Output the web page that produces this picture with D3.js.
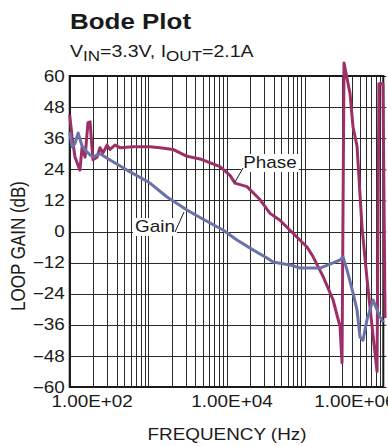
<!DOCTYPE html>
<html>
<head>
<meta charset="utf-8">
<script src="https://cdn.jsdelivr.net/npm/d3@7/dist/d3.min.js"></script>
<style>
  body { margin: 0; background: #fff; }
  svg { display: block; font-family: "Liberation Sans", Arial, sans-serif; }
</style>
</head>
<body>
<svg id="chart" width="388" height="446"></svg>
<script>
// data
const gainFreq = [100, 107, 117, 128, 144, 157, 182, 198, 243, 327, 538, 1057, 1742, 3134, 4592, 9020, 13610, 21770, 32870, 39200, 64560, 86500, 156000, 228500, 280600, 306300, 344400, 411000, 462100, 504700, 551000, 619700, 738900, 907600, 1000000];
const gainDb = [38.4, 32.7, 34, 38, 33, 31.5, 29.5, 28.8, 30, 27.6, 23.7, 18.7, 13.3, 8.3, 5.4, 0.6, -3.3, -7.1, -10.2, -11.8, -12.9, -14.1, -14.1, -12.1, -11, -9.8, -14.8, -23.7, -30.3, -40.7, -41.9, -34, -26.4, -33, -35];

const phaseFreq = [100, 107, 117, 135, 144, 157, 171, 182, 192, 198, 223, 243, 266, 299, 327, 378, 438, 642, 1057, 1419, 2078, 2553, 3134, 4592, 8260, 11090, 12830, 18250, 26730, 35900, 48100, 70500, 106400, 126900, 170300, 228500, 280600, 297400, 315500, 375900, 411000, 462100, 535200, 619700, 738900, 831800, 880000, 991000, 1052000];
const phaseDeg = [135, 110, 86, 71, 98, 86, 126, 127, 98, 83, 86, 97, 91, 100, 95, 100, 97, 98, 98, 97, 95, 91, 87, 84, 75, 65, 56, 52, 37, 21, 13, -2, -18, -29, -52, -79, -110, -152, 195, 160, 121, 99, 5, -55, -120, -162, 171, 171, -100];

const gainTicks = [60, 48, 36, 24, 12, 0, -12, -24, -36, -48, -60];
const phaseTicks = [180, 144, 108, 72, 36, 0, -36, -72, -108, -144, -180];
const freqTicks = [1e2, 1e4, 1e6];
const freqTickLabels = ['1.00E+02', '1.00E+04', '1.00E+06'];

// layout
const plot = { left: 69.7, right: 383.3, top: 76, bottom: 387 };
const stretch = 1.18;   // text in the reference is drawn wide
const gainColor = '#6a72a8';
const phaseColor = '#9c2f66';
const labelShift = [22, 5, -29];

const svg = d3.select('#chart');

const x = d3.scaleLog().domain([1e2, 1e6]).range([plot.left, plot.right]);
const y = d3.scaleLinear().domain([-60, 60]).range([plot.bottom, plot.top]);
const yPhase = d3.scaleLinear().domain([-180, 180]).range([plot.bottom, plot.top]);

// minor + major vertical grid
const gridFreqs = [];
for (let dec = 1e2; dec < 1e6; dec *= 10) {
    for (let k = 1; k < 10; k++) gridFreqs.push(dec * k);
}

const gGrid = svg.append('g');
gGrid.selectAll('.vgrid')
    .data(gridFreqs)
    .enter().append('line')
    .attr('class', 'vgrid')
    .attr('x1', d => Math.round(x(d)) + 0.5)
    .attr('x2', d => Math.round(x(d)) + 0.5)
    .attr('y1', plot.top)
    .attr('y2', plot.bottom)
    .attr('stroke', '#2a2a2a')
    .attr('stroke-width', 1);

gGrid.selectAll('.hgrid')
    .data(gainTicks)
    .enter().append('line')
    .attr('class', 'hgrid')
    .attr('x1', plot.left)
    .attr('x2', plot.right)
    .attr('y1', d => Math.round(y(d)) + 0.5)
    .attr('y2', d => Math.round(y(d)) + 0.5)
    .attr('stroke', '#2a2a2a')
    .attr('stroke-width', 1);

// frame
svg.append('rect')
    .attr('x', plot.left)
    .attr('y', plot.top)
    .attr('width', plot.right - plot.left)
    .attr('height', plot.bottom - plot.top)
    .attr('fill', 'none')
    .attr('stroke', '#1a1a1a')
    .attr('stroke-width', 2);

// left axis
const yAxis = d3.axisLeft(y).tickValues(gainTicks).tickSize(0).tickPadding(0);
const gY = svg.append('g').attr('transform', `translate(${plot.left},0)`).call(yAxis);
gY.select('.domain').remove();
gY.selectAll('text')
    .attr('font-size', 16)
    .attr('font-family', '"Liberation Sans", Arial, sans-serif')
    .attr('fill', '#1a1a1a')
    .attr('x', -5 / stretch)
    .attr('transform', `scale(${stretch},1)`);

// right (phase) axis, cut off by the window edge as in the reference
const yAxisR = d3.axisRight(yPhase).tickValues(phaseTicks).tickSize(3).tickPadding(2);
const gYR = svg.append('g').attr('transform', `translate(${plot.right},0)`).call(yAxisR);
gYR.select('.domain').remove();
gYR.selectAll('line').attr('stroke', '#1a1a1a');
gYR.selectAll('text')
    .attr('font-size', 16)
    .attr('font-family', '"Liberation Sans", Arial, sans-serif')
    .attr('fill', '#1a1a1a');

// bottom axis
const xAxis = d3.axisBottom(x).tickValues(freqTicks).tickSize(0).tickPadding(0)
    .tickFormat((d, i) => freqTickLabels[i]);
const gX = svg.append('g').attr('transform', `translate(0,${plot.bottom})`).call(xAxis);
gX.select('.domain').remove();
gX.selectAll('text')
    .attr('font-size', 16)
    .attr('font-family', '"Liberation Sans", Arial, sans-serif')
    .attr('fill', '#1a1a1a')
    .attr('dy', null)
    .attr('y', 20)
    .attr('x', (d, i) => labelShift[i] / stretch)
    .attr('transform', `scale(${stretch},1)`);

// curves
const gainLine = d3.line()
    .x((d, i) => x(gainFreq[i]))
    .y(d => y(d));
const phaseLine = d3.line()
    .x((d, i) => x(phaseFreq[i]))
    .y(d => yPhase(d));

svg.append('path')
    .datum(phaseDeg)
    .attr('d', phaseLine)
    .attr('fill', 'none')
    .attr('stroke', phaseColor)
    .attr('stroke-width', 3)
    .attr('stroke-linejoin', 'round');

svg.append('path')
    .datum(gainDb)
    .attr('d', gainLine)
    .attr('fill', 'none')
    .attr('stroke', gainColor)
    .attr('stroke-width', 3)
    .attr('stroke-linejoin', 'round');

// callouts
function callout(label, tx, ty, lx1, ly1, lx2, ly2) {
    const g = svg.append('g');
    const bg = g.append('rect').attr('fill', '#fff');
    g.append('line')
        .attr('x1', lx1).attr('y1', ly1).attr('x2', lx2).attr('y2', ly2)
        .attr('stroke', '#1a1a1a').attr('stroke-width', 1);
    const t = g.append('text')
        .attr('transform', `translate(${tx},${ty}) scale(${stretch},1)`)
        .attr('text-anchor', 'middle')
        .attr('font-size', 16)
        .attr('fill', '#1a1a1a')
        .text(label);
    const w = t.node().getComputedTextLength() * stretch;
    bg.attr('x', tx - w / 2 - 2).attr('y', ty - 14).attr('width', w + 4).attr('height', 18);
    g.select('line').raise();
}
callout('Gain', 155, 232, 175, 232, 184, 212);
callout('Phase', 270, 168, 243, 168, 235, 182);

// titles
svg.append('text')
    .attr('transform', `translate(70,29) scale(${stretch},1)`)
    .attr('font-size', 22)
    .attr('font-weight', 'bold')
    .attr('fill', '#1a1a1a')
    .text('Bode Plot');

const sub = svg.append('text')
    .attr('transform', 'translate(70,57) scale(1.22,1)')
    .attr('font-size', 16)
    .attr('fill', '#1a1a1a');
sub.append('tspan').text('V');
sub.append('tspan').attr('font-size', 14).attr('dy', 4).text('IN');
sub.append('tspan').attr('dy', -4).text('=3.3V, I');
sub.append('tspan').attr('font-size', 14).attr('dy', 4).text('OUT');
sub.append('tspan').attr('dy', -4).text('=2.1A');

svg.append('text')
    .attr('transform', `translate(227,440) scale(${stretch},1)`)
    .attr('text-anchor', 'middle')
    .attr('font-size', 16)
    .attr('fill', '#1a1a1a')
    .text('FREQUENCY (Hz)');

svg.append('text')
    .attr('transform', `translate(25,246) rotate(-90) scale(1,${stretch})`)
    .attr('text-anchor', 'middle')
    .attr('font-size', 17)
    .attr('fill', '#1a1a1a')
    .text('LOOP GAIN (dB)');
</script>
</body>
</html>
